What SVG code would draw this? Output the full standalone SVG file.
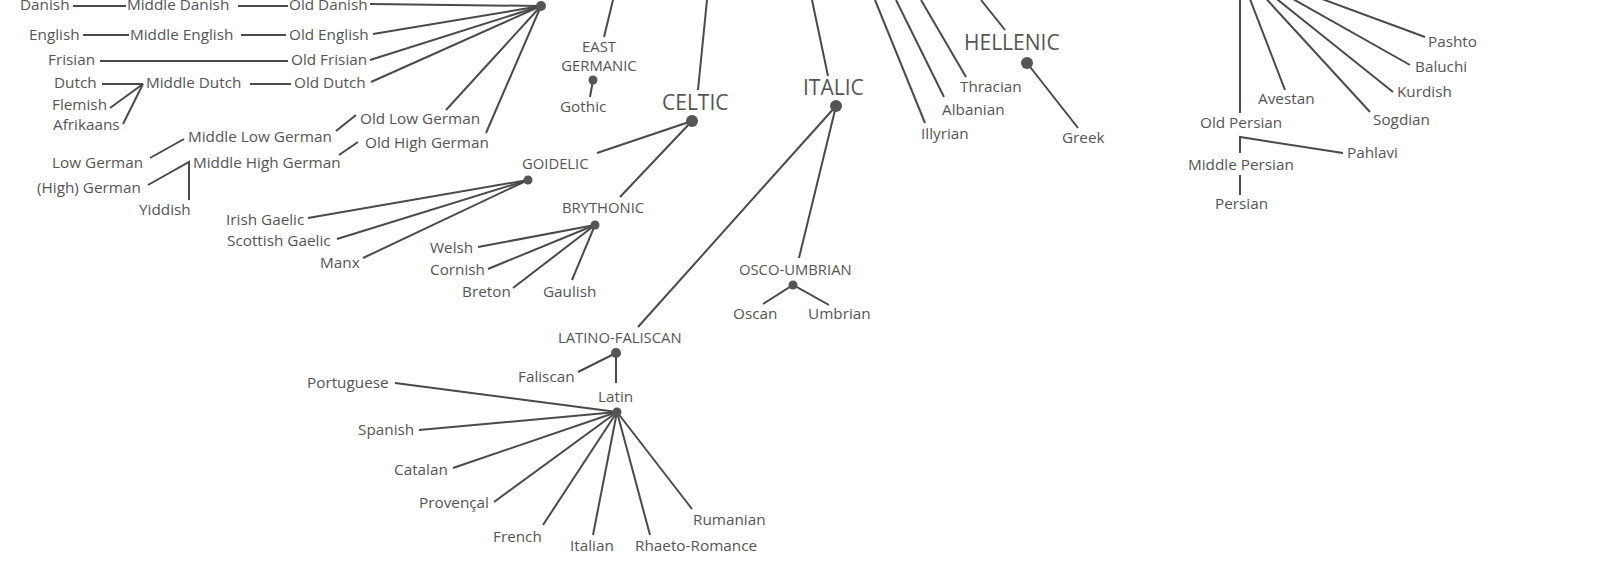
<svg xmlns="http://www.w3.org/2000/svg" width="1609" height="576" viewBox="0 0 1609 576">
<style>
text{font-family:"Open Sans","Noto Sans",sans-serif;fill:#555;font-size:15.3px}
.b{font-size:21px}
.s{font-size:14.8px}
#connectors line,#connectors polyline{stroke:#4a4a4a;stroke-width:2;fill:none}
.dot{fill:#555}
</style>
<rect width="1609" height="576" fill="#fff"/>
<g id="connectors">
<line x1="73" y1="6" x2="126" y2="6"/><line x1="238" y1="6" x2="288" y2="6"/><line x1="370" y1="4" x2="541" y2="6"/>
<line x1="83" y1="35" x2="129" y2="35"/><line x1="241" y1="35" x2="286" y2="35"/><line x1="373" y1="34" x2="541" y2="6"/>
<line x1="100" y1="61" x2="288" y2="61"/><line x1="370" y1="60" x2="541" y2="6"/>
<line x1="102" y1="84" x2="143" y2="84"/><line x1="250" y1="84" x2="291" y2="84"/><line x1="371" y1="82" x2="541" y2="6"/>
<line x1="110" y1="108" x2="143" y2="84"/><line x1="123" y1="124" x2="143" y2="84"/>
<line x1="446" y1="110" x2="541" y2="6"/><line x1="486" y1="133" x2="541" y2="6"/>
<line x1="336" y1="131" x2="356" y2="115"/><line x1="150" y1="158" x2="184" y2="139"/>
<line x1="339" y1="155" x2="358" y2="142"/>
<polyline points="148,185 189,162 189,200"/>
<line x1="604" y1="37" x2="613" y2="0"/><line x1="593" y1="80" x2="590" y2="97"/>
<line x1="698" y1="90" x2="707" y2="0"/>
<line x1="828" y1="76" x2="812" y2="0"/>
<line x1="925" y1="123" x2="875" y2="0"/><line x1="944" y1="97" x2="896" y2="0"/><line x1="966" y1="77" x2="921" y2="0"/>
<line x1="1005" y1="30" x2="981" y2="0"/><line x1="1027" y1="63" x2="1078" y2="128"/>
<line x1="692" y1="121" x2="597" y2="153"/><line x1="692" y1="121" x2="620" y2="197"/>
<line x1="528" y1="180" x2="308" y2="218"/><line x1="528" y1="180" x2="337" y2="239"/><line x1="528" y1="180" x2="363" y2="258"/>
<line x1="595" y1="225" x2="478" y2="247"/><line x1="595" y1="225" x2="488" y2="269"/><line x1="595" y1="225" x2="513" y2="288"/><line x1="595" y1="225" x2="572" y2="280"/>
<line x1="836" y1="106" x2="799" y2="258"/><line x1="836" y1="106" x2="638" y2="327"/>
<polyline points="763,304 793,285 829,305"/>
<line x1="578" y1="372" x2="616" y2="353"/><line x1="616" y1="353" x2="616" y2="383"/>
<line x1="617" y1="412" x2="395" y2="383"/><line x1="617" y1="412" x2="419" y2="430"/><line x1="617" y1="412" x2="453" y2="468"/><line x1="617" y1="412" x2="494" y2="502"/><line x1="617" y1="412" x2="543" y2="525"/><line x1="617" y1="412" x2="593" y2="535"/><line x1="617" y1="412" x2="650" y2="535"/><line x1="617" y1="412" x2="692" y2="509"/>
<line x1="1240" y1="0" x2="1240" y2="113"/>
<line x1="1238" y1="-32" x2="1285" y2="90"/><line x1="1238" y1="-32" x2="1370" y2="112"/><line x1="1238" y1="-32" x2="1393" y2="92"/><line x1="1238" y1="-32" x2="1410" y2="65"/><line x1="1238" y1="-32" x2="1425" y2="37"/>
<polyline points="1240,153 1240,137 1343,153"/>
<line x1="1240" y1="175" x2="1240" y2="195"/>
</g>
<g id="dots">
<circle class="dot" cx="541" cy="6" r="5"/><circle class="dot" cx="593" cy="80" r="4.5"/><circle class="dot" cx="692" cy="121" r="6"/><circle class="dot" cx="836" cy="106" r="6"/><circle class="dot" cx="1027" cy="63" r="6"/><circle class="dot" cx="528" cy="180" r="4.5"/><circle class="dot" cx="595" cy="225" r="4.5"/><circle class="dot" cx="793" cy="285" r="4.5"/><circle class="dot" cx="616" cy="353" r="5"/><circle class="dot" cx="617" cy="412" r="4.5"/>
</g>
<g id="germanic">
<text x="20" y="10">Danish</text><text x="127" y="10">Middle Danish</text><text x="289" y="10">Old Danish</text>
<text x="29" y="40">English</text><text x="130" y="40">Middle English</text><text x="289" y="40">Old English</text>
<text x="48" y="65">Frisian</text><text x="291" y="65">Old Frisian</text>
<text x="54" y="88">Dutch</text><text x="146" y="88">Middle Dutch</text><text x="294" y="88">Old Dutch</text>
<text x="52" y="110">Flemish</text><text x="53" y="130">Afrikaans</text>
<text x="360" y="124">Old Low German</text><text x="365" y="148">Old High German</text>
<text x="188" y="142">Middle Low German</text><text x="193" y="168">Middle High German</text>
<text x="52" y="168">Low German</text><text x="37" y="193">(High) German</text><text x="139" y="215">Yiddish</text>
<text class="s" x="599" y="52" text-anchor="middle">EAST</text><text class="s" x="599" y="71" text-anchor="middle">GERMANIC</text>
<text x="560" y="112">Gothic</text>
</g>
<g id="celtic">
<text class="b" x="662" y="110">CELTIC</text>
<text class="s" x="522" y="169">GOIDELIC</text>
<text x="226" y="225">Irish Gaelic</text><text x="227" y="246">Scottish Gaelic</text><text x="320" y="268">Manx</text>
<text class="s" x="562" y="213">BRYTHONIC</text>
<text x="430" y="253">Welsh</text><text x="430" y="275">Cornish</text><text x="462" y="297">Breton</text><text x="543" y="297">Gaulish</text>
</g>
<g id="italic">
<text class="b" x="803" y="95">ITALIC</text>
<text class="s" x="739" y="275">OSCO-UMBRIAN</text>
<text x="733" y="319">Oscan</text><text x="808" y="319">Umbrian</text>
<text class="s" x="558" y="343">LATINO-FALISCAN</text>
<text x="518" y="382">Faliscan</text><text x="598" y="402">Latin</text>
<text x="307" y="388">Portuguese</text><text x="358" y="435">Spanish</text><text x="394" y="475">Catalan</text><text x="419" y="508">Provençal</text><text x="493" y="542">French</text><text x="570" y="551">Italian</text><text x="635" y="551">Rhaeto-Romance</text><text x="693" y="525">Rumanian</text>
</g>
<g id="others">
<text x="921" y="139">Illyrian</text><text x="942" y="115">Albanian</text><text x="960" y="92">Thracian</text>
<text class="b" x="964" y="50">HELLENIC</text><text x="1062" y="143">Greek</text>
</g>
<g id="iranian">
<text x="1200" y="128">Old Persian</text><text x="1258" y="104">Avestan</text><text x="1373" y="125">Sogdian</text><text x="1397" y="97">Kurdish</text><text x="1415" y="72">Baluchi</text><text x="1428" y="47">Pashto</text>
<text x="1347" y="158">Pahlavi</text><text x="1188" y="170">Middle Persian</text><text x="1215" y="209">Persian</text>
</g>
</svg>
